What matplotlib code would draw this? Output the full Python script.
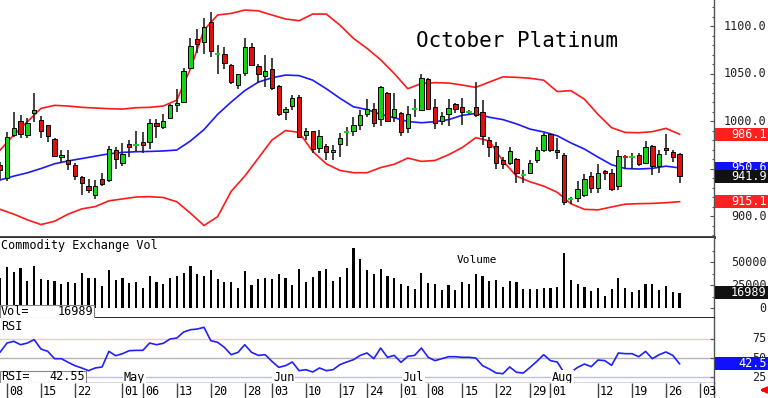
import matplotlib
matplotlib.use("Agg")
import matplotlib.pyplot as plt
from matplotlib.patches import Rectangle

plt.rcParams['font.family'] = ['DejaVu Sans Mono', 'DejaVu Sans']

# =========================
# data, index = trading day from Apr 05
# =========================
opens = [954, 940, 985, 1000, 985, 1008, 1001, 995.5, 981, 962,
         959, 954, 941, 932, 922, 938.5, 938, 969, 956, 975.5,
         974.7, 978, 977.5, 998, 994, 1003, 1016.5, 1020, 1055.5, 1086,
         1083.5, 1104.5, 1071, 1071, 1058.5, 1038, 1051, 1078, 1057.5, 1047.5,
         1054.5, 1037, 1010, 1016, 1025.5, 985.5, 989, 972, 973.5, 967.5,
         975.5, 988.8, 990, 996, 1007.5, 1012.5, 1002, 1029, 1004.5, 1008,
         993, 1012.3, 1011.5, 1044, 1014.5, 1000.5, 1007, 1018, 1014.5, 1009.8,
         1015, 1009, 980.5, 974, 959, 955.5, 960.5, 943.2, 945.5, 959,
         969, 986, 970, 964, 918, 918.5, 922, 942, 929, 947.5,
         945.5, 931.5, 962.8, 962.5, 964, 956, 974, 952.5, 972, 967.5,
         965.5]
highs = [957, 988, 1010, 1006, 1003, 1029, 1005, 996, 982, 969.5,
         969, 955.5, 942, 938.5, 938, 945, 974, 973, 976.5, 980,
         989.5, 988.5, 1002, 1002, 1007, 1018, 1033.5, 1055.5, 1087.5, 1097,
         1108, 1115, 1080.5, 1078, 1060.5, 1050, 1087, 1082.5, 1060.5, 1070,
         1066, 1038, 1014.5, 1027.5, 1027.5, 993, 990, 990.5, 975.5, 974.5,
         987.5, 994, 1004, 1011.5, 1023, 1019.5, 1037, 1031, 1030, 1009,
         1016, 1023, 1049, 1045, 1023, 1010, 1023, 1018.5, 1024.5, 1011.5,
         1041.5, 1022, 983, 978, 962, 973, 961.5, 948.5, 959, 973,
         987, 987.5, 982, 966, 920.5, 937, 944, 946.5, 954.5, 948.5,
         950, 969, 964, 966, 966, 979.5, 974.5, 969.5, 986.5, 969,
         966]
lows = [939, 937, 983, 982, 982, 999, 982, 978, 962.5, 955.5,
        948.5, 938, 922, 924, 917.5, 931.5, 936, 950, 953, 962.5,
        967, 966.5, 970.5, 982.5, 991.5, 1002.5, 1010, 1018.5, 1054.5, 1072,
        1071, 1067.5, 1049, 1054.5, 1039.5, 1033.5, 1047.5, 1059, 1040, 1035.5,
        1032.5, 1005.5, 1001, 1011.5, 982, 980, 966, 966, 959, 959.5,
        962.5, 974, 984, 990.5, 1004.5, 994, 994.5, 999.5, 999.5, 984,
        987, 1004, 1010.5, 1011.5, 991.5, 996, 994.5, 1008, 996, 1007.5,
        1004.5, 974.5, 962.5, 949, 950, 953.5, 935, 934.5, 945, 955.5,
        967.5, 967.5, 960, 911.5, 912.5, 915, 920.5, 924.5, 924.5, 938,
        926.5, 927.5, 949, 950, 953, 954.5, 943, 945.5, 964, 957,
        935]
closes = [948, 983.5, 993, 986, 997.5, 1011.5, 990, 984, 963, 964,
          954.5, 942.5, 934.5, 927.5, 932, 933.5, 970.5, 960, 965.5, 972.5,
          974.7, 974.7, 997.5, 994.5, 1000, 1016.5, 1019.3, 1052.5, 1079.3, 1080.7,
          1098.5, 1074, 1071, 1061, 1041.5, 1049, 1078, 1059.5, 1049, 1053,
          1035, 1007, 1012.5, 1024, 983.5, 989, 971, 984, 967, 970,
          982.5, 988.8, 996, 1006.5, 1012.5, 998, 1035.5, 1000.5, 1012.5, 988,
          1007.5, 1012.3, 1045, 1012.5, 997.5, 1005.5, 1013.5, 1012.5, 1010, 1009.8,
          1006.5, 984, 973, 955.5, 954.5, 968.5, 945, 943.2, 955.5, 969.5,
          985.5, 969.5, 967, 915, 918, 928, 938.5, 929, 945, 945,
          928, 963.5, 962.5, 962.5, 954.5, 973, 953, 965, 969.5, 962,
          941.9]

# bollinger bands, read every second day
band_idx = list(range(0, 101, 2))
bb_upper = [969.5, 985.3, 999.3, 1013.3, 1016.5, 1015.8, 1014.4, 1013.7, 1013.0, 1012.6,
            1014.0, 1014.4, 1015.8, 1022.0, 1055.0, 1095.8, 1111.6, 1113.3, 1116.8, 1116.0,
            1111.6, 1107.4, 1105.6, 1112.6, 1112.6, 1101.0, 1087.0, 1076.5, 1064.5, 1050.0,
            1034.0, 1039.5, 1040.4, 1040.0, 1037.9, 1035.4, 1041.0, 1046.5, 1046.0, 1045.0,
            1043.0, 1031.0, 1032.0, 1023.0, 1007.0, 993.0, 988.0, 987.7, 988.8, 992.3,
            986.1]
bb_mid = [938, 942, 945.5, 950, 955, 958, 960.5, 963, 965.5, 967,
          967.7, 968, 968.5, 969.5, 979, 991, 1007, 1020, 1032, 1041,
          1045.5, 1048.4, 1047.8, 1043, 1034, 1024, 1015, 1012, 1007, 1003.5,
          999.5, 998.2, 999.3, 1001.5, 1006, 1008, 1004, 1001.5, 997, 991.5,
          988.5, 984.5, 977, 970.5, 962, 954, 950, 949.5, 950.2, 952.5,
          950.6]
bb_lower = [907, 902, 896, 891, 894.5, 902, 907.5, 910, 916, 918,
            920, 920.4, 919.5, 915, 903, 890, 899.3, 926, 942, 961,
            980, 990, 988, 968, 955, 948, 945.6, 945.6, 951, 954.5,
            961, 957.5, 958.5, 964.5, 972, 982.5, 979, 958, 942, 936,
            931.5, 925, 913, 907, 906.5, 909.5, 912.5, 913, 913.3, 914,
            915.1]

volume = [32600, 44600, 39100, 43500, 29700, 46000, 31900, 30400, 29700, 26100,
          28300, 27500, 38400, 32600, 33300, 24300, 42000, 30800, 33300, 27900,
          29000, 22500, 35100, 28300, 26100, 33300, 34800, 38000, 46400, 37000,
          35500, 42000, 31900, 29000, 29000, 22500, 40900, 25400, 32200, 32600,
          32200, 37000, 33300, 25400, 42800, 28300, 34400, 40600, 42800, 29700,
          33700, 44200, 65900, 53600, 42000, 37000, 42800, 35500, 32600, 26100,
          24300, 21000, 38000, 27200, 26800, 19600, 25400, 19600, 28300, 26100,
          37700, 35500, 30100, 30800, 23600, 29700, 28600, 20700, 20700, 20700,
          22500, 22500, 23200, 59800, 30800, 26100, 23600, 19200, 22500, 13800,
          20700, 33300, 21700, 17400, 19600, 26100, 26100, 19900, 24600, 18100,
          16989]

rsi = [57.8, 69.4, 71.6, 67.2, 69.4, 73.7, 61.6, 58.6, 49.1, 49.1,
       44.4, 40.1, 37.1, 33.6, 37.1, 38.4, 58.6, 53.0, 55.6, 59.5,
       59.9, 59.9, 69.4, 67.2, 69.0, 74.6, 75.9, 83.6, 86.6, 87.5,
       89.7, 72.4, 70.3, 63.8, 54.3, 57.3, 67.2, 57.3, 53.4, 54.3,
       45.7, 37.9, 40.1, 44.8, 33.6, 34.9, 31.9, 37.1, 33.6, 34.9,
       41.4, 44.8, 47.8, 53.4, 56.5, 49.1, 62.9, 50.9, 53.4, 44.4,
       52.2, 53.4, 62.9, 50.9, 46.6, 49.1, 51.7, 51.7, 50.9, 50.9,
       50.0, 40.1, 35.8, 30.6, 29.7, 38.4, 31.5, 30.6, 37.9, 45.7,
       54.3, 46.6, 44.8, 31.0, 31.5, 37.9, 42.2, 38.8, 47.4, 46.6,
       40.5, 56.5, 55.6, 55.6, 51.7, 58.6, 49.1, 54.3, 57.8, 53.4,
       42.55]

date_idx = [1, 6, 11, 18, 21, 26, 31, 36, 40, 45, 50, 54, 59, 63, 68, 73, 78, 81, 88, 93, 98, 103]
date_lbl = ["08", "15", "22", "01", "06", "13", "20", "28", "03", "10", "17",
            "24", "01", "08", "15", "22", "29", "01", "12", "19", "26", "03"]
month_idx = [18, 40, 59, 81]
month_lbl = ["May", "Jun", "Jul", "Aug"]

price_ticks = [900, 950, 1000, 1050, 1100]
price_labels = [900, 1000, 1050, 1100]   # 950.0 sits under the value tags
vol_ticks = [0, 25000, 50000]
rsi_ticks = [25, 50, 75]

# =========================
# layout (pixel based)
# =========================
W, H = 768, 398
fig = plt.figure(figsize=(W / 100, H / 100), dpi=100)


def box(top, bottom, left=0.0, right=713.5):
    return [left / W, 1 - bottom / H, (right - left) / W, (bottom - top) / H]


ax = fig.add_axes(box(0, 237.5))
axv = fig.add_axes(box(237.5, 318.3))
axr = fig.add_axes(box(318.3, 382.5))
axd = fig.add_axes(box(382.5, 398))
lab = fig.add_axes(box(0, 398, 713.5, 768))

XL = (-0.03, 105.0)
for a in (ax, axv, axr, axd):
    a.set_xlim(*XL)
    a.set_xticks([])
    for s in ("top", "left", "bottom"):
        a.spines[s].set_visible(False)
    a.spines["right"].set_color("#555555")
    a.spines["right"].set_linewidth(1.0)
    a.yaxis.tick_right()
    a.tick_params(axis="y", which="both", direction="in", color="#555555",
                  labelright=False, width=0.8)
    a.tick_params(axis="y", which="major", length=3)
    a.tick_params(axis="y", which="minor", length=1.5)

ax.set_ylim(877.4, 1127.4)
axv.set_ylim(-10870, 76960)
axr.set_ylim(18.3, 101.4)
axd.set_ylim(0, 1)
axd.set_yticks([])

ax.spines["bottom"].set_visible(True)
ax.spines["bottom"].set_color("#333333")
ax.spines["bottom"].set_linewidth(2)
axv.spines["bottom"].set_visible(True)
axv.spines["bottom"].set_color("black")
axv.spines["bottom"].set_linewidth(1.2)
axr.spines["bottom"].set_visible(True)
axr.spines["bottom"].set_color("#333333")
axr.spines["bottom"].set_linewidth(1.0)

ax.set_yticks(price_ticks)
ax.set_yticks(list(range(880, 1130, 10)), minor=True)
axv.set_yticks(vol_ticks)
axv.set_yticks([12500, 37500, 62500], minor=True)
axr.set_yticks(rsi_ticks)

GREEN = "#14d414"
RED = "#e01010"

# =========================
# price panel
# =========================
ax.plot(band_idx, bb_upper, color="#ff1a1a", lw=1.2, zorder=1)
ax.plot(band_idx, bb_lower, color="#ff1a1a", lw=1.2, zorder=1)
ax.plot(band_idx, bb_mid, color="#1a1aff", lw=1.2, zorder=1)

idx = list(range(len(closes)))
ax.vlines(idx, lows, highs, color="#222222", lw=1.2, zorder=2)
for i, o, c in zip(idx, opens, closes):
    col = GREEN if c >= o else RED
    if abs(c - o) < 0.5:
        ax.hlines(c, i - 0.38, i + 0.38, color=col, lw=1.4, zorder=3)
    else:
        ax.bar(i, abs(c - o), bottom=min(o, c), width=0.64, color=col,
               edgecolor="black", linewidth=0.7, zorder=3)

ax.text(416 / 713.5, 1 - 41 / 237.5, "October Platinum", transform=ax.transAxes,
        fontsize=15, ha="left", va="center", color="black")

# =========================
# volume panel
# =========================
axv.bar(idx, volume, width=0.32, color="black", zorder=2)
axv.text(1 / 713.5, 0.905, "Commodity Exchange Vol", transform=axv.transAxes,
         fontsize=8.5, ha="left", va="center")
axv.text(457 / 713.5, 0.72, "Volume", transform=axv.transAxes,
         fontsize=8, ha="left", va="center")
axv.add_patch(Rectangle((0, 0), 94 / 713.5, 13.3 / 80.8, transform=axv.transAxes,
                        fc="white", ec="#888888", lw=0.8, zorder=5))
axv.text(1 / 713.5, 6.6 / 80.8, "Vol=", transform=axv.transAxes, fontsize=8.5,
         ha="left", va="center", zorder=6)
axv.text(93 / 713.5, 6.6 / 80.8, f"{volume[-1]}", transform=axv.transAxes,
         fontsize=8.5, ha="right", va="center", zorder=6)

# =========================
# RSI panel
# =========================
axr.axhline(75, color="#ffc4c4", lw=1.0, zorder=1)
axr.axhline(50, color="#b4b4b4", lw=1.0, zorder=1)
axr.axhline(25, color="#bcbcff", lw=1.0, zorder=1)
axr.plot(idx, rsi, color="#2020ff", lw=1.2, zorder=2)
for m, lbl in zip(month_idx, month_lbl):
    axr.text(m + 0.2, 25, lbl, fontsize=8.5, ha="left", va="center", zorder=4,
             bbox=dict(fc="white", ec="none", pad=0.6))
axr.text(1 / 713.5, 0.88, "RSI", transform=axr.transAxes, fontsize=8.5,
         ha="left", va="center")
axr.add_patch(Rectangle((0, 0), 86 / 713.5, 11.5 / 64.2, transform=axr.transAxes,
                        fc="white", ec="#888888", lw=0.8, zorder=5))
axr.text(1 / 713.5, 5.8 / 64.2, "RSI=", transform=axr.transAxes, fontsize=8.5,
         ha="left", va="center", zorder=6)
axr.text(85 / 713.5, 5.8 / 64.2, f"{rsi[-1]:.2f}", transform=axr.transAxes,
         fontsize=8.5, ha="right", va="center", zorder=6)

# =========================
# date axis
# =========================
axd.vlines(date_idx, 0, 1, color="#444444", lw=1.0)
for d, lbl in zip(date_idx, date_lbl):
    axd.text(d + 0.3, 0.45, lbl, fontsize=8.5, ha="left", va="center")

# =========================
# right side labels and value tags
# =========================
lab.set_xlim(0, 54.5)
lab.set_ylim(H, 0)
lab.axis("off")


def to_px(a, v):
    return H - a.transData.transform((0, v))[1]


for v in price_labels:
    lab.text(53, to_px(ax, v), f"{v:.1f}", fontsize=8.5, ha="right", va="center", color="#222222")
for v in vol_ticks:
    lab.text(53, to_px(axv, v), f"{v}", fontsize=8.5, ha="right", va="center", color="#222222")
for v in rsi_ticks:
    lab.text(53, to_px(axr, v), f"{v}", fontsize=8.5, ha="right", va="center", color="#222222")

tags = [
    (ax, bb_upper[-1], f"{bb_upper[-1]:.1f}", "#ff2020"),
    (ax, bb_mid[-1], f"{bb_mid[-1]:.1f}", "#1010ff"),
    (ax, closes[-1], f"{closes[-1]:.1f}", "#111111"),
    (ax, bb_lower[-1], f"{bb_lower[-1]:.1f}", "#ff2020"),
    (axv, volume[-1], f"{volume[-1]}", "#111111"),
    (axr, rsi[-1], f"{rsi[-1]:.1f}", "#1010ff"),
]
for k, (a, v, txt, fc) in enumerate(tags):
    y = to_px(a, v)
    lab.add_patch(Rectangle((1.5, y - 6.3), 53, 12.6, fc=fc, ec="none", zorder=10 + 2 * k))
    lab.text(53, y, txt, fontsize=8.5, ha="right", va="center", color="white", zorder=11 + 2 * k)

lab.annotate("", xy=(43.5, 390), xytext=(53.5, 390),
             arrowprops=dict(arrowstyle="-|>", color="red", lw=2, mutation_scale=8))

fig.savefig("out.png", dpi=100)
